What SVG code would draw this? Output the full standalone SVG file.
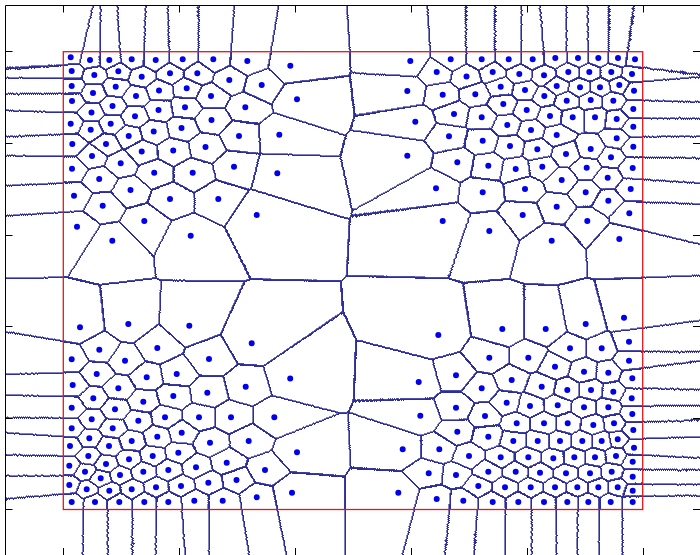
<svg xmlns="http://www.w3.org/2000/svg" width="700" height="555" viewBox="0 0 700 555">
<style>
.v use{mix-blend-mode:darken}
.a{fill:url(#g0)}.b{fill:url(#g1)}.c{fill:url(#g4)}.d{fill:url(#g5)}
.q0{fill:url(#h0)}.q1{fill:url(#h1)}.q4{fill:url(#h4)}.q5{fill:url(#h5)}.q8{fill:url(#h8)}.q9{fill:url(#h9)}
.ax{fill:none;stroke:#000;stroke-width:1}
</style>
<defs>
<radialGradient id="g0"><stop offset="0" stop-color="rgb(0,0,0)"/><stop offset="1" stop-color="rgb(252,252,252)"/></radialGradient>
<radialGradient id="g1"><stop offset="0" stop-color="rgb(0,1,0)"/><stop offset="1" stop-color="rgb(252,253,252)"/></radialGradient>
<radialGradient id="g4"><stop offset="0" stop-color="rgb(0,0,1)"/><stop offset="1" stop-color="rgb(252,252,253)"/></radialGradient>
<radialGradient id="g5"><stop offset="0" stop-color="rgb(0,1,1)"/><stop offset="1" stop-color="rgb(252,253,253)"/></radialGradient>
<radialGradient id="h0"><stop offset="0" stop-color="rgb(0,0,0)"/><stop offset=".25" stop-color="rgb(34,34,34)"/><stop offset=".5" stop-color="rgb(87,87,87)"/><stop offset=".75" stop-color="rgb(160,160,160)"/><stop offset="1" stop-color="rgb(252,252,252)"/></radialGradient>
<radialGradient id="h1"><stop offset="0" stop-color="rgb(0,1,0)"/><stop offset=".25" stop-color="rgb(34,35,34)"/><stop offset=".5" stop-color="rgb(87,88,87)"/><stop offset=".75" stop-color="rgb(160,161,160)"/><stop offset="1" stop-color="rgb(252,253,252)"/></radialGradient>
<radialGradient id="h4"><stop offset="0" stop-color="rgb(0,0,1)"/><stop offset=".25" stop-color="rgb(34,34,35)"/><stop offset=".5" stop-color="rgb(87,87,88)"/><stop offset=".75" stop-color="rgb(160,160,161)"/><stop offset="1" stop-color="rgb(252,252,253)"/></radialGradient>
<radialGradient id="h5"><stop offset="0" stop-color="rgb(0,1,1)"/><stop offset=".25" stop-color="rgb(34,35,35)"/><stop offset=".5" stop-color="rgb(87,88,88)"/><stop offset=".75" stop-color="rgb(160,161,161)"/><stop offset="1" stop-color="rgb(252,253,253)"/></radialGradient>
<radialGradient id="h8"><stop offset="0" stop-color="rgb(0,0,2)"/><stop offset=".25" stop-color="rgb(34,34,36)"/><stop offset=".5" stop-color="rgb(87,87,89)"/><stop offset=".75" stop-color="rgb(160,160,162)"/><stop offset="1" stop-color="rgb(252,252,254)"/></radialGradient>
<radialGradient id="h9"><stop offset="0" stop-color="rgb(0,1,2)"/><stop offset=".25" stop-color="rgb(34,35,36)"/><stop offset=".5" stop-color="rgb(87,88,89)"/><stop offset=".75" stop-color="rgb(160,161,162)"/><stop offset="1" stop-color="rgb(252,253,254)"/></radialGradient>
<ellipse id="E" rx="135" ry="106.7"/>
<ellipse id="F" rx="110" ry="87"/>
<filter id="vf" filterUnits="userSpaceOnUse" x="-10" y="-10" width="720" height="575" color-interpolation-filters="sRGB">
<feColorMatrix in="SourceGraphic" type="matrix" values="-20 20 0 0 0 -20 0 20 0 0 0 0 0 0 0 0 0 0 0 1" result="id"/>
<feOffset in="id" dx="1" dy="0" result="x1"/>
<feOffset in="id" dx="0" dy="1" result="y1"/>
<feOffset in="id" dx="-1" dy="0" result="x2"/>
<feOffset in="id" dx="0" dy="-1" result="y2"/>
<feBlend in="id" in2="x1" mode="difference" result="a"/>
<feBlend in="id" in2="y1" mode="difference" result="b"/>
<feBlend in="id" in2="x2" mode="difference" result="c"/>
<feBlend in="id" in2="y2" mode="difference" result="d"/>
<feComposite in="a" in2="b" operator="arithmetic" k2="1" k3="1" result="ab"/>
<feComposite in="c" in2="d" operator="arithmetic" k2="1" k3="1" result="cd"/>
<feColorMatrix in="ab" type="matrix" values="0 0 0 0 0 0 0 0 0 0 0 0 0 0 0 40 40 0 0 0" result="m1"/>
<feColorMatrix in="cd" type="matrix" values="0 0 0 0 0 0 0 0 0 0 0 0 0 0 0 40 40 0 0 0" result="m2"/>
<feComposite in="m1" in2="m2" operator="arithmetic" k2="1" k3="0.6" result="m"/>
<feFlood flood-color="#2d2d9c"/>
<feComposite in2="m" operator="in"/>
</filter>
<clipPath id="ci"><rect x="63.3" y="51.7" width="579.4" height="457.8"/></clipPath>
<clipPath id="co"><path clip-rule="evenodd" d="M6 6H700V555H6Z M63.3 51.7V509.5H642.7V51.7Z"/></clipPath>
</defs>
<g id="cells">
<g class="v" filter="url(#vf)" clip-path="url(#ci)"><rect x="-20" y="-20" width="740" height="595" fill="#fff"/>
<use href="#E" x="70.7" y="57.3" class="a"/><use href="#E" x="90" y="60" class="b"/><use href="#E" x="109.3" y="60" class="c"/><use href="#E" x="131.7" y="59.3" class="d"/><use href="#E" x="155.7" y="60" class="a"/><use href="#E" x="182.7" y="59.3" class="b"/><use href="#E" x="213.3" y="59.3" class="c"/><use href="#E" x="71.7" y="71" class="d"/><use href="#E" x="94.3" y="75" class="a"/><use href="#E" x="118.3" y="71.3" class="b"/><use href="#E" x="141.7" y="76.7" class="c"/><use href="#E" x="170" y="73.3" class="d"/><use href="#E" x="197.3" y="73.3" class="a"/><use href="#E" x="229.3" y="80" class="b"/><use href="#E" x="71.7" y="86" class="c"/><use href="#E" x="93" y="93" class="d"/>
<use href="#E" x="115.7" y="86.7" class="a"/><use href="#E" x="136" y="96" class="b"/><use href="#E" x="159" y="90.5" class="c"/><use href="#E" x="186.7" y="88.3" class="d"/><use href="#E" x="211" y="96" class="a"/><use href="#E" x="72" y="101" class="b"/><use href="#E" x="91.5" y="112.5" class="c"/><use href="#E" x="112.5" y="106" class="d"/><use href="#E" x="135" y="116.3" class="a"/><use href="#E" x="158.5" y="110" class="b"/><use href="#E" x="185" y="107.3" class="c"/><use href="#E" x="211.5" y="120" class="d"/><use href="#E" x="70.7" y="123.7" class="a"/><use href="#E" x="90.7" y="129.7" class="b"/><use href="#E" x="110.7" y="123.7" class="c"/><use href="#E" x="128.7" y="136" class="d"/>
<use href="#E" x="153.7" y="131.5" class="a"/><use href="#E" x="181.5" y="128" class="b"/><use href="#E" x="239" y="136" class="c"/><use href="#E" x="72.3" y="144" class="d"/><use href="#E" x="106" y="144" class="a"/><use href="#E" x="141.7" y="151.5" class="b"/><use href="#E" x="173.2" y="150.5" class="c"/><use href="#E" x="205.5" y="147" class="d"/><use href="#E" x="92" y="156" class="a"/><use href="#E" x="120.7" y="163.3" class="b"/><use href="#E" x="72" y="168.7" class="c"/><use href="#E" x="154.2" y="172.7" class="d"/><use href="#E" x="192.7" y="172.7" class="a"/><use href="#E" x="234" y="166.7" class="b"/><use href="#E" x="99.2" y="179" class="c"/><use href="#E" x="130.5" y="190" class="d"/>
<use href="#E" x="74" y="195.7" class="a"/><use href="#E" x="102.7" y="205.7" class="b"/><use href="#E" x="170" y="199" class="c"/><use href="#E" x="218.3" y="199" class="d"/><use href="#E" x="77" y="226.7" class="a"/><use href="#E" x="144.3" y="221" class="b"/><use href="#E" x="112.3" y="240.7" class="c"/><use href="#E" x="190.7" y="235.7" class="d"/><use href="#E" x="256.7" y="215" class="a"/><use href="#E" x="247.3" y="61" class="b"/><use href="#E" x="290.3" y="65.7" class="c"/><use href="#E" x="261.7" y="85" class="d"/><use href="#E" x="297" y="99.3" class="a"/><use href="#E" x="245.3" y="107.3" class="b"/><use href="#E" x="279.3" y="134.7" class="c"/><use href="#E" x="277.3" y="173.3" class="d"/>
<use href="#E" x="410.3" y="61" class="a"/><use href="#E" x="407.3" y="91" class="b"/><use href="#E" x="415.3" y="121.7" class="c"/><use href="#E" x="407.3" y="155.7" class="d"/><use href="#E" x="450.7" y="59.3" class="a"/><use href="#E" x="436.7" y="72" class="b"/><use href="#E" x="466.5" y="76.5" class="c"/><use href="#E" x="442.7" y="94.7" class="d"/><use href="#E" x="454" y="114" class="a"/><use href="#E" x="449" y="136.3" class="b"/><use href="#E" x="457.3" y="162.3" class="c"/><use href="#E" x="436" y="188.3" class="d"/><use href="#E" x="442.7" y="221" class="a"/><use href="#E" x="481.7" y="59.3" class="b"/><use href="#E" x="508.7" y="59.3" class="c"/><use href="#E" x="532.7" y="59.3" class="d"/>
<use href="#E" x="555.3" y="58" class="a"/><use href="#E" x="578" y="58" class="b"/><use href="#E" x="598.3" y="58" class="c"/><use href="#E" x="618" y="58" class="d"/><use href="#E" x="635" y="59.3" class="a"/><use href="#E" x="492.7" y="72" class="b"/><use href="#E" x="519.3" y="74" class="c"/><use href="#E" x="544" y="75.3" class="d"/><use href="#E" x="568.3" y="72" class="a"/><use href="#E" x="589.3" y="72" class="b"/><use href="#E" x="611.3" y="72" class="c"/><use href="#E" x="632" y="74" class="d"/><use href="#E" x="475.3" y="94.3" class="a"/><use href="#E" x="500.7" y="86.7" class="b"/><use href="#E" x="525" y="90" class="c"/><use href="#E" x="544.3" y="96" class="d"/>
<use href="#E" x="556.7" y="86" class="a"/><use href="#E" x="580" y="87.3" class="b"/><use href="#E" x="600" y="87.3" class="c"/><use href="#E" x="619.3" y="85" class="d"/><use href="#E" x="634" y="90.7" class="a"/><use href="#E" x="503.3" y="104" class="b"/><use href="#E" x="526.7" y="110" class="c"/><use href="#E" x="550" y="116" class="d"/><use href="#E" x="566.7" y="100.7" class="a"/><use href="#E" x="590.7" y="100" class="b"/><use href="#E" x="613.3" y="100.7" class="c"/><use href="#E" x="633.3" y="109" class="d"/><use href="#E" x="481.7" y="117.3" class="a"/><use href="#E" x="507.3" y="125" class="b"/><use href="#E" x="531" y="130" class="c"/><use href="#E" x="556.7" y="135" class="d"/>
<use href="#E" x="572.7" y="117.3" class="a"/><use href="#E" x="595" y="117.3" class="b"/><use href="#E" x="616.7" y="119" class="c"/><use href="#E" x="633.3" y="126.7" class="d"/><use href="#E" x="482.7" y="140.7" class="a"/><use href="#E" x="510" y="146" class="b"/><use href="#E" x="537.3" y="149.3" class="c"/><use href="#E" x="566" y="154" class="d"/><use href="#E" x="590.7" y="149" class="a"/><use href="#E" x="616.7" y="138.3" class="b"/><use href="#E" x="611" y="157.3" class="c"/><use href="#E" x="633.3" y="146.7" class="d"/><use href="#E" x="488.3" y="165.7" class="a"/><use href="#E" x="515.7" y="169" class="b"/><use href="#E" x="542.3" y="166.7" class="c"/><use href="#E" x="561.7" y="180" class="d"/>
<use href="#E" x="586.7" y="167.7" class="a"/><use href="#E" x="607.7" y="177.7" class="b"/><use href="#E" x="632.7" y="168" class="c"/><use href="#E" x="482.7" y="192.3" class="d"/><use href="#E" x="525" y="189" class="a"/><use href="#E" x="585.7" y="192.3" class="b"/><use href="#E" x="630.7" y="189" class="c"/><use href="#E" x="556.7" y="206.7" class="d"/><use href="#E" x="608.3" y="200.7" class="a"/><use href="#E" x="629.3" y="213.3" class="b"/><use href="#E" x="522.7" y="215" class="c"/><use href="#E" x="587.3" y="221" class="d"/><use href="#E" x="551.7" y="240.7" class="a"/><use href="#E" x="489.3" y="231" class="b"/><use href="#E" x="619.3" y="239" class="c"/><use href="#E" x="251.7" y="343.3" class="d"/>
<use href="#E" x="438.3" y="335" class="a"/><use href="#E" x="80" y="327.3" class="b"/><use href="#E" x="128.3" y="324" class="c"/><use href="#E" x="189.3" y="325.7" class="d"/><use href="#E" x="99.3" y="349.7" class="a"/><use href="#E" x="157.3" y="348" class="b"/><use href="#E" x="71.7" y="359.3" class="c"/><use href="#E" x="125" y="360.7" class="d"/><use href="#E" x="209" y="359" class="a"/><use href="#E" x="96.7" y="374" class="b"/><use href="#E" x="146.7" y="377.3" class="c"/><use href="#E" x="176.7" y="374" class="d"/><use href="#E" x="72.7" y="385" class="a"/><use href="#E" x="118.3" y="388.3" class="b"/><use href="#E" x="93.3" y="398.3" class="c"/><use href="#E" x="143.3" y="401.7" class="d"/>
<use href="#E" x="173.3" y="396" class="a"/><use href="#E" x="207.3" y="392.7" class="b"/><use href="#E" x="245.7" y="386.7" class="c"/><use href="#E" x="290.2" y="378.5" class="d"/><use href="#E" x="71.7" y="407.7" class="a"/><use href="#E" x="115" y="409.3" class="b"/><use href="#E" x="91.7" y="419.3" class="c"/><use href="#E" x="138.3" y="420.7" class="d"/><use href="#E" x="165" y="417.3" class="a"/><use href="#E" x="199" y="417.3" class="b"/><use href="#E" x="231" y="417.3" class="c"/><use href="#E" x="274.3" y="417.3" class="d"/><use href="#E" x="71.7" y="428.3" class="a"/><use href="#E" x="112.7" y="428.3" class="b"/><use href="#E" x="89.3" y="438.3" class="c"/><use href="#E" x="131.7" y="441" class="d"/>
<use href="#E" x="157.3" y="436.7" class="a"/><use href="#E" x="181.7" y="432.7" class="b"/><use href="#E" x="210" y="442.7" class="c"/><use href="#E" x="248.7" y="441" class="d"/><use href="#E" x="70" y="446" class="a"/><use href="#E" x="109" y="446" class="b"/><use href="#E" x="88.3" y="456" class="c"/><use href="#E" x="129" y="459.3" class="d"/><use href="#E" x="152.7" y="456" class="a"/><use href="#E" x="178.3" y="452.7" class="b"/><use href="#E" x="226.7" y="462.7" class="c"/><use href="#E" x="297" y="452.3" class="d"/><use href="#E" x="69.3" y="465.7" class="a"/><use href="#E" x="106" y="464" class="b"/><use href="#E" x="85" y="471.7" class="c"/><use href="#E" x="120" y="475" class="d"/>
<use href="#E" x="143.3" y="471.7" class="a"/><use href="#E" x="168.3" y="470" class="b"/><use href="#E" x="196" y="467.3" class="c"/><use href="#E" x="265" y="470" class="d"/><use href="#E" x="100.7" y="478.3" class="a"/><use href="#E" x="69.3" y="485" class="b"/><use href="#E" x="86.7" y="489.3" class="c"/><use href="#E" x="109.3" y="490.7" class="d"/><use href="#E" x="131.7" y="489.3" class="a"/><use href="#E" x="156" y="487.3" class="b"/><use href="#E" x="181" y="486" class="c"/><use href="#E" x="208.3" y="482.7" class="d"/><use href="#E" x="236.5" y="480" class="a"/><use href="#E" x="292" y="492.7" class="b"/><use href="#E" x="71.7" y="502" class="c"/><use href="#E" x="95" y="502" class="d"/>
<use href="#E" x="119.3" y="502" class="a"/><use href="#E" x="144.3" y="502" class="b"/><use href="#E" x="168.3" y="502" class="c"/><use href="#E" x="194.3" y="500.7" class="d"/><use href="#E" x="222.7" y="500.7" class="a"/><use href="#E" x="256.7" y="497.3" class="b"/><use href="#E" x="418.7" y="382" class="c"/><use href="#E" x="456" y="375.3" class="d"/><use href="#E" x="420.3" y="415.7" class="a"/><use href="#E" x="456" y="407.7" class="b"/><use href="#E" x="457.3" y="431.7" class="c"/><use href="#E" x="402.7" y="449.3" class="d"/><use href="#E" x="439.3" y="449.3" class="a"/><use href="#E" x="469" y="456" class="b"/><use href="#E" x="428.7" y="473.3" class="c"/><use href="#E" x="456" y="475" class="d"/>
<use href="#E" x="398.3" y="492.7" class="a"/><use href="#E" x="436.7" y="499" class="b"/><use href="#E" x="463.3" y="500.7" class="c"/><use href="#E" x="502.3" y="329" class="d"/><use href="#E" x="545.7" y="329" class="a"/><use href="#E" x="585.7" y="324" class="b"/><use href="#E" x="624" y="317.7" class="c"/><use href="#E" x="629" y="341.7" class="d"/><use href="#E" x="570" y="348.3" class="a"/><use href="#E" x="601.7" y="348.3" class="b"/><use href="#E" x="489.3" y="357.7" class="c"/><use href="#E" x="528.3" y="357.7" class="d"/><use href="#E" x="629" y="360.7" class="a"/><use href="#E" x="555" y="366.7" class="b"/><use href="#E" x="584" y="371.7" class="c"/><use href="#E" x="608.3" y="372.7" class="d"/>
<use href="#E" x="632.3" y="378.3" class="a"/><use href="#E" x="511.7" y="380" class="b"/><use href="#E" x="541.7" y="386.7" class="c"/><use href="#E" x="481.7" y="388.3" class="d"/><use href="#E" x="567.3" y="390" class="a"/><use href="#E" x="591" y="390" class="b"/><use href="#E" x="613.3" y="391.7" class="c"/><use href="#E" x="631.7" y="398.3" class="d"/><use href="#E" x="506.7" y="402.7" class="a"/><use href="#E" x="530" y="406" class="b"/><use href="#E" x="557.7" y="405.3" class="c"/><use href="#E" x="584" y="407.3" class="d"/><use href="#E" x="608.3" y="407.3" class="a"/><use href="#E" x="632.3" y="414" class="b"/><use href="#E" x="485" y="416" class="c"/><use href="#E" x="516.7" y="423.3" class="d"/>
<use href="#E" x="544" y="423.3" class="a"/><use href="#E" x="567.7" y="423.3" class="b"/><use href="#E" x="593.3" y="425" class="c"/><use href="#E" x="614" y="423.3" class="d"/><use href="#E" x="633.3" y="430" class="a"/><use href="#E" x="488.3" y="436.7" class="b"/><use href="#E" x="513.3" y="441" class="c"/><use href="#E" x="537.7" y="441" class="d"/><use href="#E" x="560" y="441" class="a"/><use href="#E" x="582.3" y="441" class="b"/><use href="#E" x="601.7" y="441" class="c"/><use href="#E" x="617.7" y="439.3" class="d"/><use href="#E" x="634" y="447.7" class="a"/><use href="#E" x="500.7" y="457.3" class="b"/><use href="#E" x="528.3" y="457.3" class="c"/><use href="#E" x="553.3" y="458.3" class="d"/>
<use href="#E" x="574.3" y="457.3" class="a"/><use href="#E" x="595" y="457.3" class="b"/><use href="#E" x="616" y="456" class="c"/><use href="#E" x="632.7" y="461.7" class="d"/><use href="#E" x="488.3" y="471.7" class="a"/><use href="#E" x="515.7" y="471.7" class="b"/><use href="#E" x="540" y="472.7" class="c"/><use href="#E" x="566" y="473.3" class="d"/><use href="#E" x="590" y="473.3" class="a"/><use href="#E" x="611.7" y="471.7" class="b"/><use href="#E" x="632.7" y="476.7" class="c"/><use href="#E" x="478.3" y="486" class="d"/><use href="#E" x="505" y="487.3" class="a"/><use href="#E" x="530.7" y="487.3" class="b"/><use href="#E" x="555" y="487.3" class="c"/><use href="#E" x="577.3" y="487.3" class="d"/>
<use href="#E" x="598.3" y="487.3" class="a"/><use href="#E" x="617.7" y="487.3" class="b"/><use href="#E" x="632.7" y="490.7" class="c"/><use href="#E" x="492.7" y="502" class="d"/><use href="#E" x="518.3" y="502" class="a"/><use href="#E" x="544" y="502" class="b"/><use href="#E" x="567.3" y="502" class="c"/><use href="#E" x="588.3" y="502" class="d"/><use href="#E" x="610.7" y="502" class="a"/><use href="#E" x="632.7" y="502" class="b"/>
</g>
<g class="v" filter="url(#vf)" clip-path="url(#ci)"><rect x="-20" y="-20" width="740" height="595" fill="#fff"/>
<use href="#E" x="70.7" y="57.3" class="a"/><use href="#E" x="90" y="60" class="a"/><use href="#E" x="109.3" y="60" class="a"/><use href="#E" x="131.7" y="59.3" class="a"/><use href="#E" x="155.7" y="60" class="b"/><use href="#E" x="182.7" y="59.3" class="b"/><use href="#E" x="213.3" y="59.3" class="b"/><use href="#E" x="71.7" y="71" class="b"/><use href="#E" x="94.3" y="75" class="c"/><use href="#E" x="118.3" y="71.3" class="c"/><use href="#E" x="141.7" y="76.7" class="c"/><use href="#E" x="170" y="73.3" class="c"/><use href="#E" x="197.3" y="73.3" class="d"/><use href="#E" x="229.3" y="80" class="d"/><use href="#E" x="71.7" y="86" class="d"/><use href="#E" x="93" y="93" class="d"/>
<use href="#E" x="115.7" y="86.7" class="a"/><use href="#E" x="136" y="96" class="a"/><use href="#E" x="159" y="90.5" class="a"/><use href="#E" x="186.7" y="88.3" class="a"/><use href="#E" x="211" y="96" class="b"/><use href="#E" x="72" y="101" class="b"/><use href="#E" x="91.5" y="112.5" class="b"/><use href="#E" x="112.5" y="106" class="b"/><use href="#E" x="135" y="116.3" class="c"/><use href="#E" x="158.5" y="110" class="c"/><use href="#E" x="185" y="107.3" class="c"/><use href="#E" x="211.5" y="120" class="c"/><use href="#E" x="70.7" y="123.7" class="d"/><use href="#E" x="90.7" y="129.7" class="d"/><use href="#E" x="110.7" y="123.7" class="d"/><use href="#E" x="128.7" y="136" class="d"/>
<use href="#E" x="153.7" y="131.5" class="a"/><use href="#E" x="181.5" y="128" class="a"/><use href="#E" x="239" y="136" class="a"/><use href="#E" x="72.3" y="144" class="a"/><use href="#E" x="106" y="144" class="b"/><use href="#E" x="141.7" y="151.5" class="b"/><use href="#E" x="173.2" y="150.5" class="b"/><use href="#E" x="205.5" y="147" class="b"/><use href="#E" x="92" y="156" class="c"/><use href="#E" x="120.7" y="163.3" class="c"/><use href="#E" x="72" y="168.7" class="c"/><use href="#E" x="154.2" y="172.7" class="c"/><use href="#E" x="192.7" y="172.7" class="d"/><use href="#E" x="234" y="166.7" class="d"/><use href="#E" x="99.2" y="179" class="d"/><use href="#E" x="130.5" y="190" class="d"/>
<use href="#E" x="74" y="195.7" class="a"/><use href="#E" x="102.7" y="205.7" class="a"/><use href="#E" x="170" y="199" class="a"/><use href="#E" x="218.3" y="199" class="a"/><use href="#E" x="77" y="226.7" class="b"/><use href="#E" x="144.3" y="221" class="b"/><use href="#E" x="112.3" y="240.7" class="b"/><use href="#E" x="190.7" y="235.7" class="b"/><use href="#E" x="256.7" y="215" class="c"/><use href="#E" x="247.3" y="61" class="c"/><use href="#E" x="290.3" y="65.7" class="c"/><use href="#E" x="261.7" y="85" class="c"/><use href="#E" x="297" y="99.3" class="d"/><use href="#E" x="245.3" y="107.3" class="d"/><use href="#E" x="279.3" y="134.7" class="d"/><use href="#E" x="277.3" y="173.3" class="d"/>
<use href="#E" x="410.3" y="61" class="a"/><use href="#E" x="407.3" y="91" class="a"/><use href="#E" x="415.3" y="121.7" class="a"/><use href="#E" x="407.3" y="155.7" class="a"/><use href="#E" x="450.7" y="59.3" class="b"/><use href="#E" x="436.7" y="72" class="b"/><use href="#E" x="466.5" y="76.5" class="b"/><use href="#E" x="442.7" y="94.7" class="b"/><use href="#E" x="454" y="114" class="c"/><use href="#E" x="449" y="136.3" class="c"/><use href="#E" x="457.3" y="162.3" class="c"/><use href="#E" x="436" y="188.3" class="c"/><use href="#E" x="442.7" y="221" class="d"/><use href="#E" x="481.7" y="59.3" class="d"/><use href="#E" x="508.7" y="59.3" class="d"/><use href="#E" x="532.7" y="59.3" class="d"/>
<use href="#E" x="555.3" y="58" class="a"/><use href="#E" x="578" y="58" class="a"/><use href="#E" x="598.3" y="58" class="a"/><use href="#E" x="618" y="58" class="a"/><use href="#E" x="635" y="59.3" class="b"/><use href="#E" x="492.7" y="72" class="b"/><use href="#E" x="519.3" y="74" class="b"/><use href="#E" x="544" y="75.3" class="b"/><use href="#E" x="568.3" y="72" class="c"/><use href="#E" x="589.3" y="72" class="c"/><use href="#E" x="611.3" y="72" class="c"/><use href="#E" x="632" y="74" class="c"/><use href="#E" x="475.3" y="94.3" class="d"/><use href="#E" x="500.7" y="86.7" class="d"/><use href="#E" x="525" y="90" class="d"/><use href="#E" x="544.3" y="96" class="d"/>
<use href="#E" x="556.7" y="86" class="a"/><use href="#E" x="580" y="87.3" class="a"/><use href="#E" x="600" y="87.3" class="a"/><use href="#E" x="619.3" y="85" class="a"/><use href="#E" x="634" y="90.7" class="b"/><use href="#E" x="503.3" y="104" class="b"/><use href="#E" x="526.7" y="110" class="b"/><use href="#E" x="550" y="116" class="b"/><use href="#E" x="566.7" y="100.7" class="c"/><use href="#E" x="590.7" y="100" class="c"/><use href="#E" x="613.3" y="100.7" class="c"/><use href="#E" x="633.3" y="109" class="c"/><use href="#E" x="481.7" y="117.3" class="d"/><use href="#E" x="507.3" y="125" class="d"/><use href="#E" x="531" y="130" class="d"/><use href="#E" x="556.7" y="135" class="d"/>
<use href="#E" x="572.7" y="117.3" class="a"/><use href="#E" x="595" y="117.3" class="a"/><use href="#E" x="616.7" y="119" class="a"/><use href="#E" x="633.3" y="126.7" class="a"/><use href="#E" x="482.7" y="140.7" class="b"/><use href="#E" x="510" y="146" class="b"/><use href="#E" x="537.3" y="149.3" class="b"/><use href="#E" x="566" y="154" class="b"/><use href="#E" x="590.7" y="149" class="c"/><use href="#E" x="616.7" y="138.3" class="c"/><use href="#E" x="611" y="157.3" class="c"/><use href="#E" x="633.3" y="146.7" class="c"/><use href="#E" x="488.3" y="165.7" class="d"/><use href="#E" x="515.7" y="169" class="d"/><use href="#E" x="542.3" y="166.7" class="d"/><use href="#E" x="561.7" y="180" class="d"/>
<use href="#E" x="586.7" y="167.7" class="a"/><use href="#E" x="607.7" y="177.7" class="a"/><use href="#E" x="632.7" y="168" class="a"/><use href="#E" x="482.7" y="192.3" class="a"/><use href="#E" x="525" y="189" class="b"/><use href="#E" x="585.7" y="192.3" class="b"/><use href="#E" x="630.7" y="189" class="b"/><use href="#E" x="556.7" y="206.7" class="b"/><use href="#E" x="608.3" y="200.7" class="c"/><use href="#E" x="629.3" y="213.3" class="c"/><use href="#E" x="522.7" y="215" class="c"/><use href="#E" x="587.3" y="221" class="c"/><use href="#E" x="551.7" y="240.7" class="d"/><use href="#E" x="489.3" y="231" class="d"/><use href="#E" x="619.3" y="239" class="d"/><use href="#E" x="251.7" y="343.3" class="d"/>
<use href="#E" x="438.3" y="335" class="a"/><use href="#E" x="80" y="327.3" class="a"/><use href="#E" x="128.3" y="324" class="a"/><use href="#E" x="189.3" y="325.7" class="a"/><use href="#E" x="99.3" y="349.7" class="b"/><use href="#E" x="157.3" y="348" class="b"/><use href="#E" x="71.7" y="359.3" class="b"/><use href="#E" x="125" y="360.7" class="b"/><use href="#E" x="209" y="359" class="c"/><use href="#E" x="96.7" y="374" class="c"/><use href="#E" x="146.7" y="377.3" class="c"/><use href="#E" x="176.7" y="374" class="c"/><use href="#E" x="72.7" y="385" class="d"/><use href="#E" x="118.3" y="388.3" class="d"/><use href="#E" x="93.3" y="398.3" class="d"/><use href="#E" x="143.3" y="401.7" class="d"/>
<use href="#E" x="173.3" y="396" class="a"/><use href="#E" x="207.3" y="392.7" class="a"/><use href="#E" x="245.7" y="386.7" class="a"/><use href="#E" x="290.2" y="378.5" class="a"/><use href="#E" x="71.7" y="407.7" class="b"/><use href="#E" x="115" y="409.3" class="b"/><use href="#E" x="91.7" y="419.3" class="b"/><use href="#E" x="138.3" y="420.7" class="b"/><use href="#E" x="165" y="417.3" class="c"/><use href="#E" x="199" y="417.3" class="c"/><use href="#E" x="231" y="417.3" class="c"/><use href="#E" x="274.3" y="417.3" class="c"/><use href="#E" x="71.7" y="428.3" class="d"/><use href="#E" x="112.7" y="428.3" class="d"/><use href="#E" x="89.3" y="438.3" class="d"/><use href="#E" x="131.7" y="441" class="d"/>
<use href="#E" x="157.3" y="436.7" class="a"/><use href="#E" x="181.7" y="432.7" class="a"/><use href="#E" x="210" y="442.7" class="a"/><use href="#E" x="248.7" y="441" class="a"/><use href="#E" x="70" y="446" class="b"/><use href="#E" x="109" y="446" class="b"/><use href="#E" x="88.3" y="456" class="b"/><use href="#E" x="129" y="459.3" class="b"/><use href="#E" x="152.7" y="456" class="c"/><use href="#E" x="178.3" y="452.7" class="c"/><use href="#E" x="226.7" y="462.7" class="c"/><use href="#E" x="297" y="452.3" class="c"/><use href="#E" x="69.3" y="465.7" class="d"/><use href="#E" x="106" y="464" class="d"/><use href="#E" x="85" y="471.7" class="d"/><use href="#E" x="120" y="475" class="d"/>
<use href="#E" x="143.3" y="471.7" class="a"/><use href="#E" x="168.3" y="470" class="a"/><use href="#E" x="196" y="467.3" class="a"/><use href="#E" x="265" y="470" class="a"/><use href="#E" x="100.7" y="478.3" class="b"/><use href="#E" x="69.3" y="485" class="b"/><use href="#E" x="86.7" y="489.3" class="b"/><use href="#E" x="109.3" y="490.7" class="b"/><use href="#E" x="131.7" y="489.3" class="c"/><use href="#E" x="156" y="487.3" class="c"/><use href="#E" x="181" y="486" class="c"/><use href="#E" x="208.3" y="482.7" class="c"/><use href="#E" x="236.5" y="480" class="d"/><use href="#E" x="292" y="492.7" class="d"/><use href="#E" x="71.7" y="502" class="d"/><use href="#E" x="95" y="502" class="d"/>
<use href="#E" x="119.3" y="502" class="a"/><use href="#E" x="144.3" y="502" class="a"/><use href="#E" x="168.3" y="502" class="a"/><use href="#E" x="194.3" y="500.7" class="a"/><use href="#E" x="222.7" y="500.7" class="b"/><use href="#E" x="256.7" y="497.3" class="b"/><use href="#E" x="418.7" y="382" class="b"/><use href="#E" x="456" y="375.3" class="b"/><use href="#E" x="420.3" y="415.7" class="c"/><use href="#E" x="456" y="407.7" class="c"/><use href="#E" x="457.3" y="431.7" class="c"/><use href="#E" x="402.7" y="449.3" class="c"/><use href="#E" x="439.3" y="449.3" class="d"/><use href="#E" x="469" y="456" class="d"/><use href="#E" x="428.7" y="473.3" class="d"/><use href="#E" x="456" y="475" class="d"/>
<use href="#E" x="398.3" y="492.7" class="a"/><use href="#E" x="436.7" y="499" class="a"/><use href="#E" x="463.3" y="500.7" class="a"/><use href="#E" x="502.3" y="329" class="a"/><use href="#E" x="545.7" y="329" class="b"/><use href="#E" x="585.7" y="324" class="b"/><use href="#E" x="624" y="317.7" class="b"/><use href="#E" x="629" y="341.7" class="b"/><use href="#E" x="570" y="348.3" class="c"/><use href="#E" x="601.7" y="348.3" class="c"/><use href="#E" x="489.3" y="357.7" class="c"/><use href="#E" x="528.3" y="357.7" class="c"/><use href="#E" x="629" y="360.7" class="d"/><use href="#E" x="555" y="366.7" class="d"/><use href="#E" x="584" y="371.7" class="d"/><use href="#E" x="608.3" y="372.7" class="d"/>
<use href="#E" x="632.3" y="378.3" class="a"/><use href="#E" x="511.7" y="380" class="a"/><use href="#E" x="541.7" y="386.7" class="a"/><use href="#E" x="481.7" y="388.3" class="a"/><use href="#E" x="567.3" y="390" class="b"/><use href="#E" x="591" y="390" class="b"/><use href="#E" x="613.3" y="391.7" class="b"/><use href="#E" x="631.7" y="398.3" class="b"/><use href="#E" x="506.7" y="402.7" class="c"/><use href="#E" x="530" y="406" class="c"/><use href="#E" x="557.7" y="405.3" class="c"/><use href="#E" x="584" y="407.3" class="c"/><use href="#E" x="608.3" y="407.3" class="d"/><use href="#E" x="632.3" y="414" class="d"/><use href="#E" x="485" y="416" class="d"/><use href="#E" x="516.7" y="423.3" class="d"/>
<use href="#E" x="544" y="423.3" class="a"/><use href="#E" x="567.7" y="423.3" class="a"/><use href="#E" x="593.3" y="425" class="a"/><use href="#E" x="614" y="423.3" class="a"/><use href="#E" x="633.3" y="430" class="b"/><use href="#E" x="488.3" y="436.7" class="b"/><use href="#E" x="513.3" y="441" class="b"/><use href="#E" x="537.7" y="441" class="b"/><use href="#E" x="560" y="441" class="c"/><use href="#E" x="582.3" y="441" class="c"/><use href="#E" x="601.7" y="441" class="c"/><use href="#E" x="617.7" y="439.3" class="c"/><use href="#E" x="634" y="447.7" class="d"/><use href="#E" x="500.7" y="457.3" class="d"/><use href="#E" x="528.3" y="457.3" class="d"/><use href="#E" x="553.3" y="458.3" class="d"/>
<use href="#E" x="574.3" y="457.3" class="a"/><use href="#E" x="595" y="457.3" class="a"/><use href="#E" x="616" y="456" class="a"/><use href="#E" x="632.7" y="461.7" class="a"/><use href="#E" x="488.3" y="471.7" class="b"/><use href="#E" x="515.7" y="471.7" class="b"/><use href="#E" x="540" y="472.7" class="b"/><use href="#E" x="566" y="473.3" class="b"/><use href="#E" x="590" y="473.3" class="c"/><use href="#E" x="611.7" y="471.7" class="c"/><use href="#E" x="632.7" y="476.7" class="c"/><use href="#E" x="478.3" y="486" class="c"/><use href="#E" x="505" y="487.3" class="d"/><use href="#E" x="530.7" y="487.3" class="d"/><use href="#E" x="555" y="487.3" class="d"/><use href="#E" x="577.3" y="487.3" class="d"/>
<use href="#E" x="598.3" y="487.3" class="a"/><use href="#E" x="617.7" y="487.3" class="a"/><use href="#E" x="632.7" y="490.7" class="a"/><use href="#E" x="492.7" y="502" class="a"/><use href="#E" x="518.3" y="502" class="b"/><use href="#E" x="544" y="502" class="b"/><use href="#E" x="567.3" y="502" class="b"/><use href="#E" x="588.3" y="502" class="b"/><use href="#E" x="610.7" y="502" class="c"/><use href="#E" x="632.7" y="502" class="c"/>
</g>
<g class="v" filter="url(#vf)" clip-path="url(#ci)"><rect x="-20" y="-20" width="740" height="595" fill="#fff"/>
<use href="#E" x="70.7" y="57.3" class="a"/><use href="#E" x="90" y="60" class="a"/><use href="#E" x="109.3" y="60" class="a"/><use href="#E" x="131.7" y="59.3" class="a"/><use href="#E" x="155.7" y="60" class="a"/><use href="#E" x="182.7" y="59.3" class="a"/><use href="#E" x="213.3" y="59.3" class="a"/><use href="#E" x="71.7" y="71" class="a"/><use href="#E" x="94.3" y="75" class="a"/><use href="#E" x="118.3" y="71.3" class="a"/><use href="#E" x="141.7" y="76.7" class="a"/><use href="#E" x="170" y="73.3" class="a"/><use href="#E" x="197.3" y="73.3" class="a"/><use href="#E" x="229.3" y="80" class="a"/><use href="#E" x="71.7" y="86" class="a"/><use href="#E" x="93" y="93" class="a"/>
<use href="#E" x="115.7" y="86.7" class="b"/><use href="#E" x="136" y="96" class="b"/><use href="#E" x="159" y="90.5" class="b"/><use href="#E" x="186.7" y="88.3" class="b"/><use href="#E" x="211" y="96" class="b"/><use href="#E" x="72" y="101" class="b"/><use href="#E" x="91.5" y="112.5" class="b"/><use href="#E" x="112.5" y="106" class="b"/><use href="#E" x="135" y="116.3" class="b"/><use href="#E" x="158.5" y="110" class="b"/><use href="#E" x="185" y="107.3" class="b"/><use href="#E" x="211.5" y="120" class="b"/><use href="#E" x="70.7" y="123.7" class="b"/><use href="#E" x="90.7" y="129.7" class="b"/><use href="#E" x="110.7" y="123.7" class="b"/><use href="#E" x="128.7" y="136" class="b"/>
<use href="#E" x="153.7" y="131.5" class="c"/><use href="#E" x="181.5" y="128" class="c"/><use href="#E" x="239" y="136" class="c"/><use href="#E" x="72.3" y="144" class="c"/><use href="#E" x="106" y="144" class="c"/><use href="#E" x="141.7" y="151.5" class="c"/><use href="#E" x="173.2" y="150.5" class="c"/><use href="#E" x="205.5" y="147" class="c"/><use href="#E" x="92" y="156" class="c"/><use href="#E" x="120.7" y="163.3" class="c"/><use href="#E" x="72" y="168.7" class="c"/><use href="#E" x="154.2" y="172.7" class="c"/><use href="#E" x="192.7" y="172.7" class="c"/><use href="#E" x="234" y="166.7" class="c"/><use href="#E" x="99.2" y="179" class="c"/><use href="#E" x="130.5" y="190" class="c"/>
<use href="#E" x="74" y="195.7" class="d"/><use href="#E" x="102.7" y="205.7" class="d"/><use href="#E" x="170" y="199" class="d"/><use href="#E" x="218.3" y="199" class="d"/><use href="#E" x="77" y="226.7" class="d"/><use href="#E" x="144.3" y="221" class="d"/><use href="#E" x="112.3" y="240.7" class="d"/><use href="#E" x="190.7" y="235.7" class="d"/><use href="#E" x="256.7" y="215" class="d"/><use href="#E" x="247.3" y="61" class="d"/><use href="#E" x="290.3" y="65.7" class="d"/><use href="#E" x="261.7" y="85" class="d"/><use href="#E" x="297" y="99.3" class="d"/><use href="#E" x="245.3" y="107.3" class="d"/><use href="#E" x="279.3" y="134.7" class="d"/><use href="#E" x="277.3" y="173.3" class="d"/>
<use href="#E" x="410.3" y="61" class="a"/><use href="#E" x="407.3" y="91" class="a"/><use href="#E" x="415.3" y="121.7" class="a"/><use href="#E" x="407.3" y="155.7" class="a"/><use href="#E" x="450.7" y="59.3" class="a"/><use href="#E" x="436.7" y="72" class="a"/><use href="#E" x="466.5" y="76.5" class="a"/><use href="#E" x="442.7" y="94.7" class="a"/><use href="#E" x="454" y="114" class="a"/><use href="#E" x="449" y="136.3" class="a"/><use href="#E" x="457.3" y="162.3" class="a"/><use href="#E" x="436" y="188.3" class="a"/><use href="#E" x="442.7" y="221" class="a"/><use href="#E" x="481.7" y="59.3" class="a"/><use href="#E" x="508.7" y="59.3" class="a"/><use href="#E" x="532.7" y="59.3" class="a"/>
<use href="#E" x="555.3" y="58" class="b"/><use href="#E" x="578" y="58" class="b"/><use href="#E" x="598.3" y="58" class="b"/><use href="#E" x="618" y="58" class="b"/><use href="#E" x="635" y="59.3" class="b"/><use href="#E" x="492.7" y="72" class="b"/><use href="#E" x="519.3" y="74" class="b"/><use href="#E" x="544" y="75.3" class="b"/><use href="#E" x="568.3" y="72" class="b"/><use href="#E" x="589.3" y="72" class="b"/><use href="#E" x="611.3" y="72" class="b"/><use href="#E" x="632" y="74" class="b"/><use href="#E" x="475.3" y="94.3" class="b"/><use href="#E" x="500.7" y="86.7" class="b"/><use href="#E" x="525" y="90" class="b"/><use href="#E" x="544.3" y="96" class="b"/>
<use href="#E" x="556.7" y="86" class="c"/><use href="#E" x="580" y="87.3" class="c"/><use href="#E" x="600" y="87.3" class="c"/><use href="#E" x="619.3" y="85" class="c"/><use href="#E" x="634" y="90.7" class="c"/><use href="#E" x="503.3" y="104" class="c"/><use href="#E" x="526.7" y="110" class="c"/><use href="#E" x="550" y="116" class="c"/><use href="#E" x="566.7" y="100.7" class="c"/><use href="#E" x="590.7" y="100" class="c"/><use href="#E" x="613.3" y="100.7" class="c"/><use href="#E" x="633.3" y="109" class="c"/><use href="#E" x="481.7" y="117.3" class="c"/><use href="#E" x="507.3" y="125" class="c"/><use href="#E" x="531" y="130" class="c"/><use href="#E" x="556.7" y="135" class="c"/>
<use href="#E" x="572.7" y="117.3" class="d"/><use href="#E" x="595" y="117.3" class="d"/><use href="#E" x="616.7" y="119" class="d"/><use href="#E" x="633.3" y="126.7" class="d"/><use href="#E" x="482.7" y="140.7" class="d"/><use href="#E" x="510" y="146" class="d"/><use href="#E" x="537.3" y="149.3" class="d"/><use href="#E" x="566" y="154" class="d"/><use href="#E" x="590.7" y="149" class="d"/><use href="#E" x="616.7" y="138.3" class="d"/><use href="#E" x="611" y="157.3" class="d"/><use href="#E" x="633.3" y="146.7" class="d"/><use href="#E" x="488.3" y="165.7" class="d"/><use href="#E" x="515.7" y="169" class="d"/><use href="#E" x="542.3" y="166.7" class="d"/><use href="#E" x="561.7" y="180" class="d"/>
<use href="#E" x="586.7" y="167.7" class="a"/><use href="#E" x="607.7" y="177.7" class="a"/><use href="#E" x="632.7" y="168" class="a"/><use href="#E" x="482.7" y="192.3" class="a"/><use href="#E" x="525" y="189" class="a"/><use href="#E" x="585.7" y="192.3" class="a"/><use href="#E" x="630.7" y="189" class="a"/><use href="#E" x="556.7" y="206.7" class="a"/><use href="#E" x="608.3" y="200.7" class="a"/><use href="#E" x="629.3" y="213.3" class="a"/><use href="#E" x="522.7" y="215" class="a"/><use href="#E" x="587.3" y="221" class="a"/><use href="#E" x="551.7" y="240.7" class="a"/><use href="#E" x="489.3" y="231" class="a"/><use href="#E" x="619.3" y="239" class="a"/><use href="#E" x="251.7" y="343.3" class="a"/>
<use href="#E" x="438.3" y="335" class="b"/><use href="#E" x="80" y="327.3" class="b"/><use href="#E" x="128.3" y="324" class="b"/><use href="#E" x="189.3" y="325.7" class="b"/><use href="#E" x="99.3" y="349.7" class="b"/><use href="#E" x="157.3" y="348" class="b"/><use href="#E" x="71.7" y="359.3" class="b"/><use href="#E" x="125" y="360.7" class="b"/><use href="#E" x="209" y="359" class="b"/><use href="#E" x="96.7" y="374" class="b"/><use href="#E" x="146.7" y="377.3" class="b"/><use href="#E" x="176.7" y="374" class="b"/><use href="#E" x="72.7" y="385" class="b"/><use href="#E" x="118.3" y="388.3" class="b"/><use href="#E" x="93.3" y="398.3" class="b"/><use href="#E" x="143.3" y="401.7" class="b"/>
<use href="#E" x="173.3" y="396" class="c"/><use href="#E" x="207.3" y="392.7" class="c"/><use href="#E" x="245.7" y="386.7" class="c"/><use href="#E" x="290.2" y="378.5" class="c"/><use href="#E" x="71.7" y="407.7" class="c"/><use href="#E" x="115" y="409.3" class="c"/><use href="#E" x="91.7" y="419.3" class="c"/><use href="#E" x="138.3" y="420.7" class="c"/><use href="#E" x="165" y="417.3" class="c"/><use href="#E" x="199" y="417.3" class="c"/><use href="#E" x="231" y="417.3" class="c"/><use href="#E" x="274.3" y="417.3" class="c"/><use href="#E" x="71.7" y="428.3" class="c"/><use href="#E" x="112.7" y="428.3" class="c"/><use href="#E" x="89.3" y="438.3" class="c"/><use href="#E" x="131.7" y="441" class="c"/>
<use href="#E" x="157.3" y="436.7" class="d"/><use href="#E" x="181.7" y="432.7" class="d"/><use href="#E" x="210" y="442.7" class="d"/><use href="#E" x="248.7" y="441" class="d"/><use href="#E" x="70" y="446" class="d"/><use href="#E" x="109" y="446" class="d"/><use href="#E" x="88.3" y="456" class="d"/><use href="#E" x="129" y="459.3" class="d"/><use href="#E" x="152.7" y="456" class="d"/><use href="#E" x="178.3" y="452.7" class="d"/><use href="#E" x="226.7" y="462.7" class="d"/><use href="#E" x="297" y="452.3" class="d"/><use href="#E" x="69.3" y="465.7" class="d"/><use href="#E" x="106" y="464" class="d"/><use href="#E" x="85" y="471.7" class="d"/><use href="#E" x="120" y="475" class="d"/>
<use href="#E" x="143.3" y="471.7" class="a"/><use href="#E" x="168.3" y="470" class="a"/><use href="#E" x="196" y="467.3" class="a"/><use href="#E" x="265" y="470" class="a"/><use href="#E" x="100.7" y="478.3" class="a"/><use href="#E" x="69.3" y="485" class="a"/><use href="#E" x="86.7" y="489.3" class="a"/><use href="#E" x="109.3" y="490.7" class="a"/><use href="#E" x="131.7" y="489.3" class="a"/><use href="#E" x="156" y="487.3" class="a"/><use href="#E" x="181" y="486" class="a"/><use href="#E" x="208.3" y="482.7" class="a"/><use href="#E" x="236.5" y="480" class="a"/><use href="#E" x="292" y="492.7" class="a"/><use href="#E" x="71.7" y="502" class="a"/><use href="#E" x="95" y="502" class="a"/>
<use href="#E" x="119.3" y="502" class="b"/><use href="#E" x="144.3" y="502" class="b"/><use href="#E" x="168.3" y="502" class="b"/><use href="#E" x="194.3" y="500.7" class="b"/><use href="#E" x="222.7" y="500.7" class="b"/><use href="#E" x="256.7" y="497.3" class="b"/><use href="#E" x="418.7" y="382" class="b"/><use href="#E" x="456" y="375.3" class="b"/><use href="#E" x="420.3" y="415.7" class="b"/><use href="#E" x="456" y="407.7" class="b"/><use href="#E" x="457.3" y="431.7" class="b"/><use href="#E" x="402.7" y="449.3" class="b"/><use href="#E" x="439.3" y="449.3" class="b"/><use href="#E" x="469" y="456" class="b"/><use href="#E" x="428.7" y="473.3" class="b"/><use href="#E" x="456" y="475" class="b"/>
<use href="#E" x="398.3" y="492.7" class="c"/><use href="#E" x="436.7" y="499" class="c"/><use href="#E" x="463.3" y="500.7" class="c"/><use href="#E" x="502.3" y="329" class="c"/><use href="#E" x="545.7" y="329" class="c"/><use href="#E" x="585.7" y="324" class="c"/><use href="#E" x="624" y="317.7" class="c"/><use href="#E" x="629" y="341.7" class="c"/><use href="#E" x="570" y="348.3" class="c"/><use href="#E" x="601.7" y="348.3" class="c"/><use href="#E" x="489.3" y="357.7" class="c"/><use href="#E" x="528.3" y="357.7" class="c"/><use href="#E" x="629" y="360.7" class="c"/><use href="#E" x="555" y="366.7" class="c"/><use href="#E" x="584" y="371.7" class="c"/><use href="#E" x="608.3" y="372.7" class="c"/>
<use href="#E" x="632.3" y="378.3" class="d"/><use href="#E" x="511.7" y="380" class="d"/><use href="#E" x="541.7" y="386.7" class="d"/><use href="#E" x="481.7" y="388.3" class="d"/><use href="#E" x="567.3" y="390" class="d"/><use href="#E" x="591" y="390" class="d"/><use href="#E" x="613.3" y="391.7" class="d"/><use href="#E" x="631.7" y="398.3" class="d"/><use href="#E" x="506.7" y="402.7" class="d"/><use href="#E" x="530" y="406" class="d"/><use href="#E" x="557.7" y="405.3" class="d"/><use href="#E" x="584" y="407.3" class="d"/><use href="#E" x="608.3" y="407.3" class="d"/><use href="#E" x="632.3" y="414" class="d"/><use href="#E" x="485" y="416" class="d"/><use href="#E" x="516.7" y="423.3" class="d"/>
<use href="#E" x="544" y="423.3" class="a"/><use href="#E" x="567.7" y="423.3" class="a"/><use href="#E" x="593.3" y="425" class="a"/><use href="#E" x="614" y="423.3" class="a"/><use href="#E" x="633.3" y="430" class="a"/><use href="#E" x="488.3" y="436.7" class="a"/><use href="#E" x="513.3" y="441" class="a"/><use href="#E" x="537.7" y="441" class="a"/><use href="#E" x="560" y="441" class="a"/><use href="#E" x="582.3" y="441" class="a"/><use href="#E" x="601.7" y="441" class="a"/><use href="#E" x="617.7" y="439.3" class="a"/><use href="#E" x="634" y="447.7" class="a"/><use href="#E" x="500.7" y="457.3" class="a"/><use href="#E" x="528.3" y="457.3" class="a"/><use href="#E" x="553.3" y="458.3" class="a"/>
<use href="#E" x="574.3" y="457.3" class="b"/><use href="#E" x="595" y="457.3" class="b"/><use href="#E" x="616" y="456" class="b"/><use href="#E" x="632.7" y="461.7" class="b"/><use href="#E" x="488.3" y="471.7" class="b"/><use href="#E" x="515.7" y="471.7" class="b"/><use href="#E" x="540" y="472.7" class="b"/><use href="#E" x="566" y="473.3" class="b"/><use href="#E" x="590" y="473.3" class="b"/><use href="#E" x="611.7" y="471.7" class="b"/><use href="#E" x="632.7" y="476.7" class="b"/><use href="#E" x="478.3" y="486" class="b"/><use href="#E" x="505" y="487.3" class="b"/><use href="#E" x="530.7" y="487.3" class="b"/><use href="#E" x="555" y="487.3" class="b"/><use href="#E" x="577.3" y="487.3" class="b"/>
<use href="#E" x="598.3" y="487.3" class="c"/><use href="#E" x="617.7" y="487.3" class="c"/><use href="#E" x="632.7" y="490.7" class="c"/><use href="#E" x="492.7" y="502" class="c"/><use href="#E" x="518.3" y="502" class="c"/><use href="#E" x="544" y="502" class="c"/><use href="#E" x="567.3" y="502" class="c"/><use href="#E" x="588.3" y="502" class="c"/><use href="#E" x="610.7" y="502" class="c"/><use href="#E" x="632.7" y="502" class="c"/>
</g>
<g class="v" filter="url(#vf)" clip-path="url(#co)"><rect x="-20" y="-20" width="740" height="595" fill="#fff"/>
<use href="#F" x="70.7" y="57.3" class="q0"/><use href="#F" x="90" y="60" class="q1"/><use href="#F" x="109.3" y="60" class="q5"/><use href="#F" x="131.7" y="59.3" class="q4"/><use href="#F" x="155.7" y="60" class="q0"/><use href="#F" x="182.7" y="59.3" class="q1"/><use href="#F" x="213.3" y="59.3" class="q5"/><use href="#F" x="247.3" y="61" class="q4"/><use href="#F" x="290.3" y="65.7" class="q0"/><use href="#F" x="410.3" y="61" class="q1"/><use href="#F" x="450.7" y="59.3" class="q5"/><use href="#F" x="481.7" y="59.3" class="q4"/><use href="#F" x="508.7" y="59.3" class="q0"/><use href="#F" x="532.7" y="59.3" class="q1"/><use href="#F" x="555.3" y="58" class="q5"/><use href="#F" x="578" y="58" class="q4"/><use href="#F" x="598.3" y="58" class="q0"/><use href="#F" x="618" y="58" class="q1"/><use href="#F" x="635" y="59.3" class="q5"/>
<use href="#F" x="632" y="74" class="q4"/><use href="#F" x="634" y="90.7" class="q0"/><use href="#F" x="633.3" y="109" class="q1"/><use href="#F" x="633.3" y="126.7" class="q5"/><use href="#F" x="633.3" y="146.7" class="q4"/><use href="#F" x="632.7" y="168" class="q0"/><use href="#F" x="630.7" y="189" class="q1"/><use href="#F" x="629.3" y="213.3" class="q5"/><use href="#F" x="619.3" y="239" class="q4"/><use href="#F" x="624" y="317.7" class="q0"/><use href="#F" x="629" y="341.7" class="q1"/><use href="#F" x="629" y="360.7" class="q5"/><use href="#F" x="632.3" y="378.3" class="q4"/><use href="#F" x="631.7" y="398.3" class="q0"/><use href="#F" x="632.3" y="414" class="q1"/><use href="#F" x="633.3" y="430" class="q5"/><use href="#F" x="634" y="447.7" class="q4"/><use href="#F" x="632.7" y="461.7" class="q0"/><use href="#F" x="632.7" y="476.7" class="q1"/><use href="#F" x="632.7" y="490.7" class="q5"/><use href="#F" x="632.7" y="502" class="q4"/>
<use href="#F" x="610.7" y="502" class="q0"/><use href="#F" x="588.3" y="502" class="q1"/><use href="#F" x="567.3" y="502" class="q5"/><use href="#F" x="544" y="502" class="q4"/><use href="#F" x="518.3" y="502" class="q0"/><use href="#F" x="492.7" y="502" class="q1"/><use href="#F" x="463.3" y="500.7" class="q5"/><use href="#F" x="436.7" y="499" class="q4"/><use href="#F" x="398.3" y="492.7" class="q0"/><use href="#F" x="292" y="492.7" class="q1"/><use href="#F" x="256.7" y="497.3" class="q5"/><use href="#F" x="222.7" y="500.7" class="q4"/><use href="#F" x="194.3" y="500.7" class="q0"/><use href="#F" x="168.3" y="502" class="q1"/><use href="#F" x="144.3" y="502" class="q5"/><use href="#F" x="119.3" y="502" class="q4"/><use href="#F" x="95" y="502" class="q0"/><use href="#F" x="71.7" y="502" class="q1"/>
<use href="#F" x="69.3" y="485" class="q5"/><use href="#F" x="69.3" y="465.7" class="q4"/><use href="#F" x="70" y="446" class="q0"/><use href="#F" x="71.7" y="428.3" class="q1"/><use href="#F" x="71.7" y="407.7" class="q5"/><use href="#F" x="72.7" y="385" class="q4"/><use href="#F" x="71.7" y="359.3" class="q0"/><use href="#F" x="80" y="327.3" class="q1"/><use href="#F" x="77" y="226.7" class="q5"/><use href="#F" x="74" y="195.7" class="q4"/><use href="#F" x="72" y="168.7" class="q0"/><use href="#F" x="72.3" y="144" class="q1"/><use href="#F" x="70.7" y="123.7" class="q5"/><use href="#F" x="72" y="101" class="q4"/><use href="#F" x="71.7" y="86" class="q8"/><use href="#F" x="71.7" y="71" class="q9"/>
</g>
</g>
<g id="bounds">
<rect x="63.3" y="51.7" width="579.4" height="457.8" fill="none" stroke="#e8141c" stroke-width="1.3"/>
</g>
<g id="sites">
<path fill="none" stroke="#0000ee" stroke-width="6" stroke-linecap="round" d="M70.7 57.3h0M90 60h0M109.3 60h0M131.7 59.3h0M155.7 60h0M182.7 59.3h0M213.3 59.3h0M71.7 71h0M94.3 75h0M118.3 71.3h0M141.7 76.7h0M170 73.3h0M197.3 73.3h0M229.3 80h0M71.7 86h0M93 93h0M115.7 86.7h0M136 96h0M159 90.5h0M186.7 88.3h0M211 96h0M72 101h0M91.5 112.5h0M112.5 106h0M135 116.3h0M158.5 110h0M185 107.3h0M211.5 120h0M70.7 123.7h0M90.7 129.7h0M110.7 123.7h0M128.7 136h0M153.7 131.5h0M181.5 128h0M239 136h0M72.3 144h0M106 144h0M141.7 151.5h0M173.2 150.5h0M205.5 147h0M92 156h0M120.7 163.3h0M72 168.7h0M154.2 172.7h0M192.7 172.7h0M234 166.7h0M99.2 179h0M130.5 190h0M74 195.7h0M102.7 205.7h0M170 199h0M218.3 199h0M77 226.7h0M144.3 221h0M112.3 240.7h0M190.7 235.7h0M256.7 215h0M247.3 61h0M290.3 65.7h0M261.7 85h0M297 99.3h0M245.3 107.3h0M279.3 134.7h0M277.3 173.3h0M410.3 61h0M407.3 91h0M415.3 121.7h0M407.3 155.7h0M450.7 59.3h0M436.7 72h0M466.5 76.5h0M442.7 94.7h0M454 114h0M449 136.3h0M457.3 162.3h0M436 188.3h0M442.7 221h0M481.7 59.3h0M508.7 59.3h0M532.7 59.3h0M555.3 58h0M578 58h0M598.3 58h0M618 58h0M635 59.3h0M492.7 72h0M519.3 74h0M544 75.3h0M568.3 72h0M589.3 72h0M611.3 72h0M632 74h0M475.3 94.3h0M500.7 86.7h0M525 90h0M544.3 96h0M556.7 86h0M580 87.3h0M600 87.3h0M619.3 85h0M634 90.7h0M503.3 104h0M526.7 110h0M550 116h0M566.7 100.7h0M590.7 100h0M613.3 100.7h0M633.3 109h0M481.7 117.3h0M507.3 125h0M531 130h0M556.7 135h0M572.7 117.3h0M595 117.3h0M616.7 119h0M633.3 126.7h0M482.7 140.7h0M510 146h0M537.3 149.3h0M566 154h0M590.7 149h0M616.7 138.3h0M611 157.3h0M633.3 146.7h0M488.3 165.7h0M515.7 169h0M542.3 166.7h0M561.7 180h0M586.7 167.7h0M607.7 177.7h0M632.7 168h0M482.7 192.3h0M525 189h0M585.7 192.3h0M630.7 189h0M556.7 206.7h0M608.3 200.7h0M629.3 213.3h0M522.7 215h0M587.3 221h0M551.7 240.7h0M489.3 231h0M619.3 239h0M251.7 343.3h0M438.3 335h0M80 327.3h0M128.3 324h0M189.3 325.7h0M99.3 349.7h0M157.3 348h0M71.7 359.3h0M125 360.7h0M209 359h0M96.7 374h0M146.7 377.3h0M176.7 374h0M72.7 385h0M118.3 388.3h0M93.3 398.3h0M143.3 401.7h0M173.3 396h0M207.3 392.7h0M245.7 386.7h0M290.2 378.5h0M71.7 407.7h0M115 409.3h0M91.7 419.3h0M138.3 420.7h0M165 417.3h0M199 417.3h0M231 417.3h0M274.3 417.3h0M71.7 428.3h0M112.7 428.3h0M89.3 438.3h0M131.7 441h0M157.3 436.7h0M181.7 432.7h0M210 442.7h0M248.7 441h0M70 446h0M109 446h0M88.3 456h0M129 459.3h0M152.7 456h0M178.3 452.7h0M226.7 462.7h0M297 452.3h0M69.3 465.7h0M106 464h0M85 471.7h0M120 475h0M143.3 471.7h0M168.3 470h0M196 467.3h0M265 470h0M100.7 478.3h0M69.3 485h0M86.7 489.3h0M109.3 490.7h0M131.7 489.3h0M156 487.3h0M181 486h0M208.3 482.7h0M236.5 480h0M292 492.7h0M71.7 502h0M95 502h0M119.3 502h0M144.3 502h0M168.3 502h0M194.3 500.7h0M222.7 500.7h0M256.7 497.3h0M418.7 382h0M456 375.3h0M420.3 415.7h0M456 407.7h0M457.3 431.7h0M402.7 449.3h0M439.3 449.3h0M469 456h0M428.7 473.3h0M456 475h0M398.3 492.7h0M436.7 499h0M463.3 500.7h0M502.3 329h0M545.7 329h0M585.7 324h0M624 317.7h0M629 341.7h0M570 348.3h0M601.7 348.3h0M489.3 357.7h0M528.3 357.7h0M629 360.7h0M555 366.7h0M584 371.7h0M608.3 372.7h0M632.3 378.3h0M511.7 380h0M541.7 386.7h0M481.7 388.3h0M567.3 390h0M591 390h0M613.3 391.7h0M631.7 398.3h0M506.7 402.7h0M530 406h0M557.7 405.3h0M584 407.3h0M608.3 407.3h0M632.3 414h0M485 416h0M516.7 423.3h0M544 423.3h0M567.7 423.3h0M593.3 425h0M614 423.3h0M633.3 430h0M488.3 436.7h0M513.3 441h0M537.7 441h0M560 441h0M582.3 441h0M601.7 441h0M617.7 439.3h0M634 447.7h0M500.7 457.3h0M528.3 457.3h0M553.3 458.3h0M574.3 457.3h0M595 457.3h0M616 456h0M632.7 461.7h0M488.3 471.7h0M515.7 471.7h0M540 472.7h0M566 473.3h0M590 473.3h0M611.7 471.7h0M632.7 476.7h0M478.3 486h0M505 487.3h0M530.7 487.3h0M555 487.3h0M577.3 487.3h0M598.3 487.3h0M617.7 487.3h0M632.7 490.7h0M492.7 502h0M518.3 502h0M544 502h0M567.3 502h0M588.3 502h0M610.7 502h0M632.7 502h0"/>
</g>
<g id="axes">
<path class="ax" d="M5.5 555V5.5H700"/>
<path class="ax" d="M63.5 5.5v7M179.5 5.5v7M295.5 5.5v7M411.5 5.5v7M527.5 5.5v7M643.5 5.5v7M63.5 555v-7M179.5 555v-7M295.5 555v-7M411.5 555v-7M527.5 555v-7M643.5 555v-7M5.5 51.5h7M5.5 143.5h7M5.5 235.5h7M5.5 326.5h7M5.5 418.5h7M5.5 509.5h7M700 51.5h-7M700 143.5h-7M700 235.5h-7M700 326.5h-7M700 418.5h-7M700 509.5h-7"/>
</g>
</svg>
